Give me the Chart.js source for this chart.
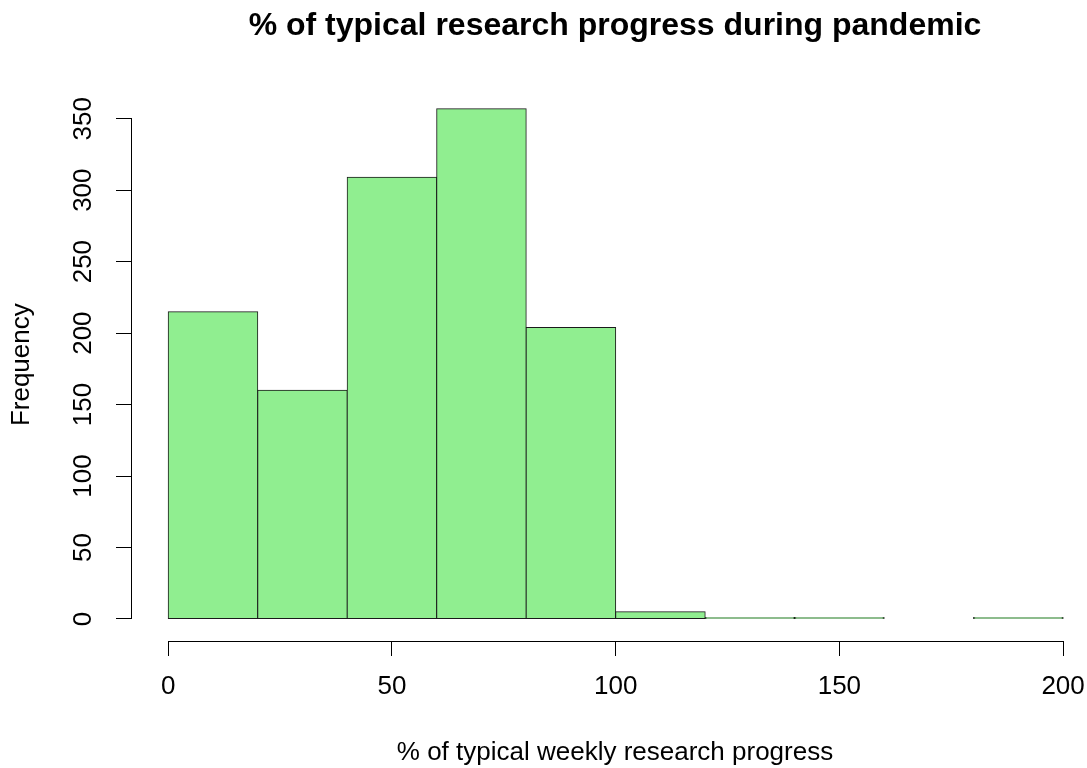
<!DOCTYPE html>
<html>
<head>
<meta charset="utf-8">
<script src="https://cdn.jsdelivr.net/npm/chart.js@4/dist/chart.umd.min.js"></script>
<style>
  html, body { margin: 0; padding: 0; background: #fff; overflow: hidden; }
  canvas { display: block; }
</style>
</head>
<body>
<canvas id="c" width="1100" height="768"></canvas>
<script>
// Histogram bins (left edges, width 20) and frequencies
const binStarts = [0, 20, 40, 60, 80, 100, 120, 140, 160, 180];
const binWidth = 20;
const frequencies = [215, 160, 309, 357, 204, 5, 1, 1, 0, 1];
const xTicks = [0, 50, 100, 150, 200];
const yTicks = [0, 50, 100, 150, 200, 250, 300, 350];

const FONT = "'Liberation Sans', Arial, Helvetica, sans-serif";

const points = binStarts.map((s, i) => ({ x: s + binWidth / 2, y: frequencies[i] }));

const rAxes = {
  id: 'rAxes',
  afterDraw(chart) {
    const { ctx, chartArea } = chart;
    const xs = chart.scales.x, ys = chart.scales.y;
    ctx.save();
    ctx.strokeStyle = '#000';
    ctx.lineWidth = 1;
    ctx.beginPath();
    const xl = Math.round(chartArea.left) - 0.5;
    ctx.moveTo(xl, ys.getPixelForValue(yTicks[0]));
    ctx.lineTo(xl, ys.getPixelForValue(yTicks[yTicks.length - 1]));
    const yb = Math.round(chartArea.bottom) + 0.5;
    ctx.moveTo(xs.getPixelForValue(xTicks[0]), yb);
    ctx.lineTo(xs.getPixelForValue(xTicks[xTicks.length - 1]), yb);
    ctx.stroke();
    ctx.restore();
  }
};

new Chart(document.getElementById('c'), {
  type: 'bar',
  data: {
    datasets: [{
      data: points,
      backgroundColor: '#90EE90',
      borderColor: '#1a1a1a',
      borderWidth: 1,
      borderSkipped: false,
      inflateAmount: 0.5,
      barPercentage: 1.0,
      categoryPercentage: 1.0
    }]
  },
  options: {
    responsive: false,
    animation: false,
    devicePixelRatio: 1,
    layout: { padding: { left: 0, right: 2, top: 0, bottom: 0 } },
    plugins: {
      legend: { display: false },
      tooltip: { enabled: false },
      title: {
        display: true,
        fullSize: false,
        text: '% of typical research progress during pandemic',
        color: '#000',
        font: { family: FONT, size: 32, weight: 'bold' },
        padding: { top: 7, bottom: 43 }
      }
    },
    scales: {
      x: {
        type: 'linear',
        min: -8.1,
        max: 207.8,
        offset: false,
        afterBuildTicks: (s) => { s.ticks = xTicks.map(v => ({ value: v })); },
        afterFit: (s) => { s.height = 127; },
        border: { display: false },
        grid: { offset: false, drawOnChartArea: false, drawTicks: true, tickLength: 15, color: '#000', lineWidth: 1 },
        ticks: {
          color: '#000',
          font: { family: FONT, size: 26 },
          padding: 15,
          maxRotation: 0,
          minRotation: 0,
          autoSkip: false
        },
        title: {
          display: true,
          text: '% of typical weekly research progress',
          color: '#000',
          font: { family: FONT, size: 26 },
          padding: { top: 0, bottom: 0 }
        }
      },
      y: {
        type: 'linear',
        min: -15.4,
        max: 371.2,
        afterBuildTicks: (s) => { s.ticks = yTicks.map(v => ({ value: v })); },
        afterFit: (s) => { s.width = 132; },
        border: { display: false },
        grid: { drawOnChartArea: false, drawTicks: true, tickLength: 16, color: '#000', lineWidth: 1 },
        ticks: {
          color: '#000',
          font: { family: FONT, size: 26 },
          padding: 10,
          minRotation: 90,
          maxRotation: 90,
          crossAlign: 'center',
          autoSkip: false
        },
        title: {
          display: true,
          text: 'Frequency',
          color: '#000',
          font: { family: FONT, size: 26 },
          padding: { top: 6, bottom: 0 }
        }
      }
    }
  },
  plugins: [rAxes]
});
</script>
</body>
</html>
